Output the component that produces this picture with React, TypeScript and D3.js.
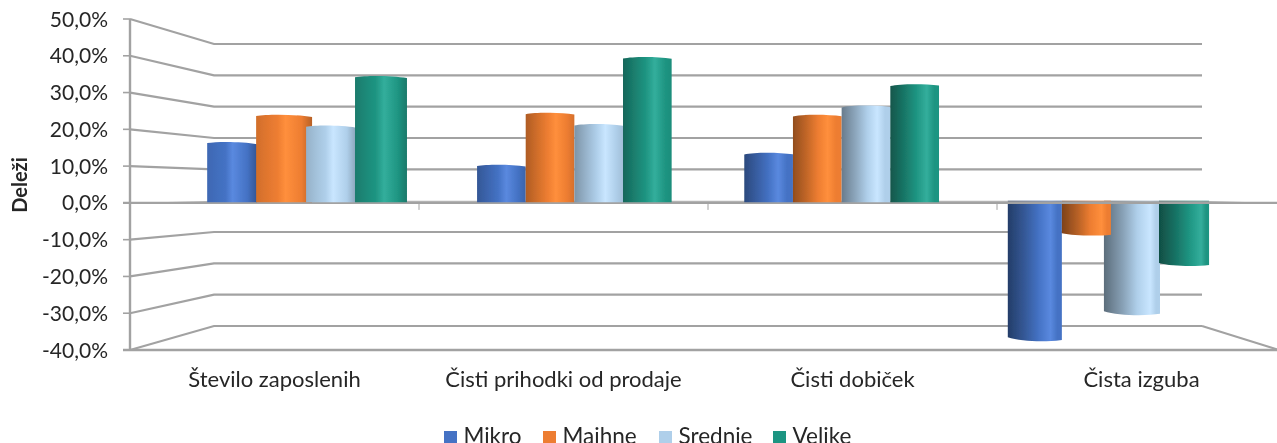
import React from "react";
import * as d3 from "d3";

const categories = ["Število zaposlenih", "Čisti prihodki od prodaje", "Čisti dobiček", "Čista izguba"];
const seriesNames = ["Mikro", "Majhne", "Srednje", "Velike"];
const seriesColors = ["#4472C4", "#ED7D31", "#AFCFEA", "#1F9582"];
const seriesHighlights = ["#5A89DF", "#FF8F3C", "#C9E6FF", "#33AE9C"];
const mikro = [17.6, 10.9, 14.4, -41.1];
const majhne = [25.6, 26.2, 25.6, -9.9];
const srednje = [22.4, 22.9, 28.3, -33.4];
const velike = [37, 42.6, 34.6, -18.9];
const seriesValues = [mikro, majhne, srednje, velike];
const axisTicks = [50, 40, 30, 20, 10, 0, -10, -20, -30, -40];

const W = 1277, H = 443;
const FONT = "Lato, Carlito, Calibri, sans-serif";
const GRID = "#a2a2a2";
const TEXT = "#262626";

const yFront = d3.scaleLinear().domain([-40, 50]).range([350, 19]);
const yBack = d3.scaleLinear().domain([-40, 50]).range([326, 44]);
const xFront = d3.scaleBand().domain(categories).range([130, 1286]);
const xBack = d3.scaleBand().domain(categories).range([214, 1202]);
const DEPTH = 0.517;
const yMid = (v: number) => yFront(v) + DEPTH * (yBack(v) - yFront(v));
const centerOf = (c: string) => {
  const f = xFront(c)! + xFront.bandwidth() / 2;
  const b = xBack(c)! + xBack.bandwidth() / 2;
  return f + DEPTH * (b - f);
};
const groupWidth = (cx: number) => 194 + 6 * Math.pow(Math.abs(cx - 700) / 400, 2);
// small pixel nudges of bar edges: [category index, series index, left, right]
const nudges: [number, number, number, number][] = [
  [0, 1, -1, 5],
  [0, 2, -1, -1],
  [0, 3, -2, 0],
  [3, 0, -1, 3],
  [3, 1, 3, 2],
  [3, 2, -5, 1],
];
const drawOrder = (ci: number) => (ci === 3 ? [0, 2, 1, 3] : [0, 1, 2, 3]);

type Bar = { id: string; ci: number; si: number; x0: number; x1: number; v: number; t: number };
const bars: Bar[] = [];
categories.forEach((c, ci) => {
  const cx = centerOf(c);
  const w = groupWidth(cx);
  const inner = d3.scaleBand().domain(seriesNames).range([cx - w / 2, cx + w / 2]);
  drawOrder(ci).forEach((si) => {
    const n = nudges.find((d) => d[0] === ci && d[1] === si);
    const x0 = inner(seriesNames[si])! + (n ? n[2] : 0);
    const x1 = x0 + inner.bandwidth() + (n ? n[3] - n[2] : 0);
    const t = ((x0 + x1) / 2 - 207) / (1209 - 207);
    bars.push({ id: `bar-${ci}-${si}`, ci, si, x0, x1, v: seriesValues[si][ci], t });
  });
});

function barPath(b: Bar) {
  const w = b.x1 - b.x0;
  const y = yMid(b.v);
  if (b.v >= 0) {
    const base = yMid(0) + 0.5;
    const skew = (0.5 - b.t) * 2.4;
    const yl = y + 1.6 - skew / 2;
    const yr = y + 1.6 + skew / 2;
    return `M${b.x0},${base}L${b.x0},${yl}C${b.x0 + w * 0.2},${y - 0.6} ${b.x0 + w * 0.7},${y - 0.6} ${b.x1},${yr}L${b.x1},${base}Z`;
  }
  const base = yBack(0);
  const drop = Math.min(4, 1.2 + (-b.v) * 0.09);
  return `M${b.x0},${base}L${b.x0},${y - drop}C${b.x0 + w * 0.25},${y + 0.6} ${b.x0 + w * 0.75},${y + 0.8} ${b.x1},${y - drop * 0.35}L${b.x1},${base}Z`;
}

function Gradient({ b }: { b: Bar }) {
  const base = d3.rgb(seriesColors[b.si]);
  const leftK = Math.min(1.8, 0.2 + 1.9 * b.t);
  const rightK = Math.max(0, 0.85 - 1.6 * b.t);
  const hi = 0.5 + 0.35 * b.t;
  return (
    <linearGradient id={b.id} x1="0" x2="1" y1="0" y2="0">
      <stop offset="0" stopColor={base.darker(leftK).formatHex()} />
      <stop offset={hi * 0.4} stopColor={base.darker(leftK * 0.4).formatHex()} />
      <stop offset={hi * 0.72} stopColor={seriesColors[b.si]} />
      <stop offset={hi} stopColor={seriesHighlights[b.si]} />
      <stop offset={hi + (1 - hi) * 0.6} stopColor={seriesColors[b.si]} />
      <stop offset="1" stopColor={base.darker(rightK).formatHex()} />
    </linearGradient>
  );
}

const plane = `M130,${yFront(0)}L214,${yBack(0)}L1202,${yBack(0)}L1279,${yFront(0)}Z`;

const legendSwatches = [444, 543, 659, 773];

export default function App() {
  const neg = bars.filter((b) => b.v < 0);
  const pos = bars.filter((b) => b.v >= 0);
  return (
    <svg width={W} height={H} viewBox={`0 0 ${W} ${H}`}
      style={{ position: "fixed", left: 0, top: 0, background: "#fff" }} fontFamily={FONT}>
      <defs>
        {bars.map((b) => <Gradient key={b.id} b={b} />)}
        <filter id="soft" x="-5%" y="-5%" width="110%" height="110%">
          <feGaussianBlur stdDeviation="0.45" />
        </filter>
      </defs>
      <g filter="url(#soft)">
        {axisTicks.map((t) => t !== 0 && (
          <polyline key={t} fill="none" stroke={GRID} strokeWidth={2.2}
            points={`130,${yFront(t)} 214,${yBack(t)} 1202,${yBack(t)}`} />
        ))}
        <line x1={1202} y1={yBack(-40)} x2={1279} y2={yFront(-40)} stroke={GRID} strokeWidth={2} />
        {neg.map((b) => <path key={b.id} d={barPath(b)} fill={`url(#${b.id})`} />)}
        <path d={plane} fill="#9e9e9e" fillOpacity={0.72} />
        <line x1={123} y1={yFront(0)} x2={W} y2={yFront(0)} stroke={GRID} strokeWidth={2.2} />
        {pos.map((b) => <path key={b.id} d={barPath(b)} fill={`url(#${b.id})`} />)}
        <line x1={130} y1={yFront(50)} x2={130} y2={yFront(-40)} stroke={GRID} strokeWidth={2.4} />
        <line x1={123} y1={yFront(-40)} x2={W} y2={yFront(-40)} stroke={GRID} strokeWidth={2.4} />
        {axisTicks.map((t) => (
          <line key={t} x1={123} x2={130} y1={yFront(t)} y2={yFront(t)} stroke={GRID} strokeWidth={1.6} />
        ))}
        {categories.slice(1).map((c) => (
          <line key={c} x1={xFront(c)!} x2={xFront(c)!} y1={yFront(0)} y2={yFront(0) + 7} stroke={GRID} strokeWidth={1} />
        ))}
        {axisTicks.map((t) => (
          <text key={t} x={108} y={yFront(t) + 7.5} textAnchor="end" fontSize={21} fill={TEXT}>
            {`${t.toFixed(1).replace(".", ",")}%`}
          </text>
        ))}
        <text transform="translate(27,185) rotate(-90)" textAnchor="middle" fontSize={20} fontWeight={700} fill={TEXT}>Deleži</text>
        {categories.map((c) => (
          <text key={c} x={xFront(c)! + xFront.bandwidth() / 2} y={387} textAnchor="middle" fontSize={22} fill={TEXT}>{c}</text>
        ))}
        {seriesNames.map((s, i) => (
          <g key={s}>
            <rect x={legendSwatches[i]} y={431} width={13} height={13} fill={seriesColors[i]} />
            <text x={legendSwatches[i] + 19.5} y={444} fontSize={22.5} fill={TEXT}>{s}</text>
          </g>
        ))}
      </g>
    </svg>
  );
}
